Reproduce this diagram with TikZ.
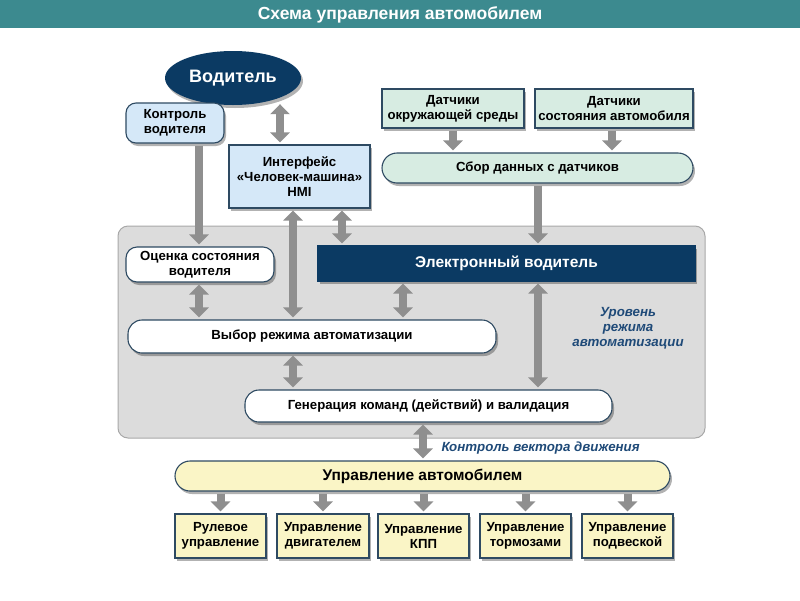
\documentclass[tikz,border=0pt]{standalone}
\usepackage{fontspec}
\setmainfont{Liberation Sans}
\usetikzlibrary{arrows.meta,shapes.geometric,shadows}
\definecolor{teal1}{HTML}{3C8A8F}
\definecolor{navy}{HTML}{0B3A63}
\definecolor{edge}{HTML}{2E4A62}
\definecolor{lblue}{HTML}{D5E8F8}
\definecolor{lgreen}{HTML}{D7ECE2}
\definecolor{lyellow}{HTML}{FAF5C6}
\definecolor{region}{HTML}{DCDCDC}
\definecolor{regionedge}{HTML}{A8A8A8}
\definecolor{arrowgray}{HTML}{8F8F8F}
\definecolor{labelblue}{HTML}{1F4A78}
\tikzset{
  shad/.style={drop shadow={shadow xshift=2pt,shadow yshift=-3pt,opacity=0.3,fill=black}},
  boxbase/.style={draw=edge,line width=1.1pt,align=center,font=\bfseries\fontsize{13.2}{15}\selectfont,inner sep=1pt,shad},
  bluebox/.style={boxbase,fill=lblue},
  greenbox/.style={boxbase,fill=lgreen},
  whitebox/.style={boxbase,fill=white,rounded corners=12pt},
  yellowbox/.style={boxbase,fill=lyellow},
  navybox/.style={boxbase,fill=navy,draw=navy,text=white},
  garrow/.style={draw=arrowgray,line width=8pt,-{Triangle[width=19pt,length=10pt]},shorten >=2pt,shorten <=2pt},
  gdarrow/.style={garrow,{Triangle[width=19pt,length=10pt]}-{Triangle[width=19pt,length=10pt]}},
  italiclabel/.style={text=labelblue,font=\bfseries\itshape\fontsize{13.3}{15}\selectfont,align=center}
}
\begin{document}
\begin{tikzpicture}[x=1pt,y=-1pt]
\useasboundingbox (0,0) rectangle (800,600);
% title
\fill[teal1] (0,0) rectangle (800,28);
\node[text=white,font=\bfseries\fontsize{17.5}{19}\selectfont] (title) at (400,15) {Схема управления автомобилем};
% grey region
\draw[fill=region,draw=regionedge,line width=1pt,rounded corners=10pt] (118,226) rectangle (705,438);
% top nodes
\node[ellipse,fill=navy,text=white,font=\bfseries\fontsize{18}{20}\selectfont,minimum width=136pt,minimum height=54pt,inner sep=0pt,shad] (vod) at (233,78) {Водитель};
\node[bluebox,rounded corners=10pt,minimum width=98pt,minimum height=40pt] (kontr) at (175,123) {Контроль\\водителя};
\node[bluebox,minimum width=141pt,minimum height=63pt] (hmi) at (299.5,176.5) {Интерфейс\\«Человек-машина»\\HMI};
\node[greenbox,minimum width=142pt,minimum height=39pt] (dat1) at (453,108.5) {Датчики\\окружающей среды};
\node[greenbox,minimum width=158pt,minimum height=39pt] (dat2) at (614,108.5) {Датчики\\состояния автомобиля};
\node[greenbox,rounded corners=15pt,minimum width=311pt,minimum height=30pt] (sbor) at (537.5,168) {Сбор данных с датчиков};
% region nodes
\node[whitebox,rounded corners=11pt,minimum width=148pt,minimum height=35pt] (ocen) at (200,264.5) {Оценка состояния\\водителя};
\node[navybox,minimum width=377pt,minimum height=35pt,font=\bfseries\fontsize{15.5}{17}\selectfont] (ev) at (506.5,263.5) {Электронный водитель};
\node[whitebox,rounded corners=14pt,minimum width=368pt,minimum height=33pt] (vyb) at (312,336.5) {Выбор режима автоматизации};
\node[whitebox,rounded corners=14pt,minimum width=367pt,minimum height=32pt] (gen) at (428.5,406) {Генерация команд (действий) и валидация};
\node[italiclabel] (urov) at (628,328) {Уровень\\режима\\автоматизации};
% bottom
\node[yellowbox,rounded corners=15pt,minimum width=495pt,minimum height=30pt,font=\bfseries\fontsize{15.5}{17}\selectfont] (upr) at (422.5,476) {Управление автомобилем};
\node[italiclabel,anchor=west] (vect) at (438,448) {Контроль вектора движения};
\node[yellowbox,minimum width=91pt,minimum height=44pt] (b1) at (220.5,536) {Рулевое\\управление};
\node[yellowbox,minimum width=92pt,minimum height=44pt] (b2) at (323,536) {Управление\\двигателем};
\node[yellowbox,minimum width=91pt,minimum height=44pt] (b3) at (423.5,536) {Управление\\КПП};
\node[yellowbox,minimum width=91pt,minimum height=44pt] (b4) at (525.5,536) {Управление\\тормозами};
\node[yellowbox,minimum width=91pt,minimum height=44pt] (b5) at (627.5,536) {Управление\\подвеской};
% x guides
\coordinate (xa) at (199,0);
\coordinate (xb) at (280,0);
\coordinate (xc) at (293,0);
\coordinate (xd) at (342,0);
\coordinate (xe) at (403,0);
\coordinate (xf) at (538,0);
\coordinate (xg) at (423,0);
\coordinate (xh) at (453,0);
\coordinate (xi) at (612,0);
% arrows
\draw[gdarrow] (vod.south -| xb) ++(0,-3) -- (hmi.north -| xb);
\draw[garrow] (kontr.south -| xa) -- (ocen.north -| xa);
\draw[garrow] (dat1.south -| xh) -- (sbor.north -| xh);
\draw[garrow] (dat2.south -| xi) -- (sbor.north -| xi);
\draw[garrow] (sbor.south -| xf) -- (ev.north -| xf);
\draw[gdarrow] (hmi.south -| xd) -- (ev.north -| xd);
\draw[gdarrow] (hmi.south -| xc) -- (vyb.north -| xc);
\draw[gdarrow] (ocen.south -| xa) -- (vyb.north -| xa);
\draw[gdarrow] (ev.south -| xe) -- (vyb.north -| xe);
\draw[gdarrow] (vyb.south -| xc) -- (gen.north -| xc);
\draw[gdarrow] (ev.south -| xf) -- (gen.north -| xf);
\draw[gdarrow] (gen.south -| xg) -- (upr.north -| xg);
\foreach \b in {b1,b2,b3,b4,b5}{
  \draw[garrow] (upr.south -| \b.north) -- (\b.north);
}
\end{tikzpicture}
\end{document}
